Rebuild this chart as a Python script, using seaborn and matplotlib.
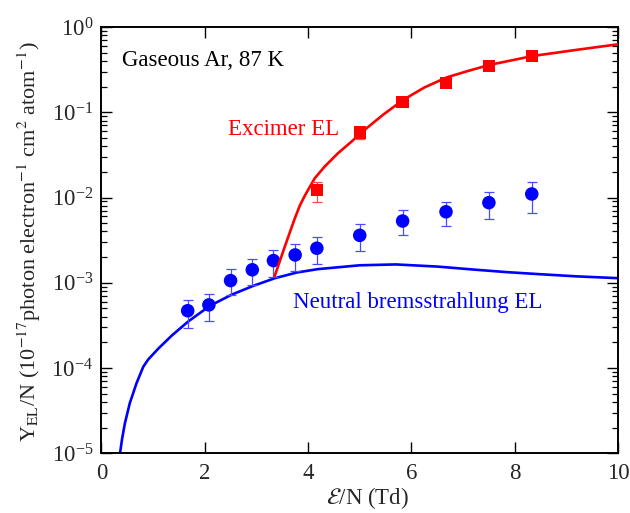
import numpy as np
import pandas as pd
import matplotlib
matplotlib.use("Agg")
import matplotlib.pyplot as plt
from matplotlib.ticker import LogLocator, FixedLocator, NullLocator
import seaborn as sns

# ---------------- data ----------------
# measured points (E/N in Td)
bremss_x = [1.67, 2.08, 2.50, 2.92, 3.33, 3.75, 4.17, 5.00, 5.83, 6.67, 7.50, 8.33]
bremss_y = [4.7e-4, 5.5e-4, 1.06e-3, 1.42e-3, 1.82e-3, 2.12e-3, 2.54e-3, 3.6e-3, 5.3e-3, 6.8e-3, 8.7e-3, 1.10e-2]
bremss_hi = [6.2e-4, 7.4e-4, 1.44e-3, 1.92e-3, 2.43e-3, 2.83e-3, 3.42e-3, 4.9e-3, 7.1e-3, 8.9e-3, 1.17e-2, 1.51e-2]
bremss_lo = [2.98e-4, 3.57e-4, 7.2e-4, 9.4e-4, 1.18e-3, 1.38e-3, 1.67e-3, 2.34e-3, 3.6e-3, 4.6e-3, 5.6e-3, 6.65e-3]

excimer_x = [4.17, 5.00, 5.83, 6.67, 7.50, 8.33]
excimer_y = [0.0123, 0.0577, 0.133, 0.219, 0.352, 0.457]
excimer_hi = [0.0154, 0.068, 0.145, 0.235, 0.375, 0.485]
excimer_lo = [0.0089, 0.0486, 0.122, 0.204, 0.330, 0.430]

# theory curves (log10 of Y/N)
bremss_curve_x = [0.36, 0.40, 0.455, 0.55, 0.68, 0.81, 0.905, 1.10, 1.36, 1.68, 2.10, 2.52, 2.94,
                  3.36, 3.78, 4.19, 5.0, 5.7, 6.5, 7.2, 7.84, 8.5, 9.2, 10.0]
bremss_curve_log = [-5.0, -4.83, -4.646, -4.41, -4.177, -3.985, -3.90, -3.773, -3.62, -3.454, -3.27, -3.14, -3.036,
                    -2.946, -2.88, -2.84, -2.795, -2.785, -2.81, -2.845, -2.875, -2.90, -2.925, -2.946]

excimer_curve_x = [3.355, 3.55, 3.74, 3.84, 3.94, 4.13, 4.32, 4.58, 4.84, 5.03, 5.45, 5.84, 6.25,
                   6.68, 7.1, 7.51, 8.35, 9.2, 10.0]
excimer_curve_log = [-2.92, -2.575, -2.25, -2.095, -1.975, -1.774, -1.638, -1.48, -1.345, -1.239, -1.03, -0.856, -0.71,
                     -0.592, -0.515, -0.445, -0.34, -0.268, -0.203]

x_ticks = [0, 2, 4, 6, 8, 10]

# ---------------- style ----------------
sns.set_theme(style="ticks")
plt.rcParams["font.family"] = ["Liberation Serif", "DejaVu Serif"]
plt.rcParams["mathtext.fontset"] = "stix"
plt.rcParams["axes.linewidth"] = 1.4

BLUE = "#0000ff"
RED = "#ff0000"
FS = 16.5

fig = plt.figure(figsize=(6.3, 5.13), dpi=100)
ax = fig.add_axes([0.161, 0.1164, 0.820, 0.8310])

bc = pd.DataFrame({"x": bremss_curve_x, "y": 10 ** np.array(bremss_curve_log)})
ec = pd.DataFrame({"x": excimer_curve_x, "y": 10 ** np.array(excimer_curve_log)})
bp = pd.DataFrame({"x": bremss_x, "y": bremss_y})
ep = pd.DataFrame({"x": excimer_x, "y": excimer_y})

sns.lineplot(data=bc, x="x", y="y", ax=ax, color=BLUE, lw=1.9, sort=False, estimator=None, zorder=2)

b_err = [np.array(bremss_y) - np.array(bremss_lo), np.array(bremss_hi) - np.array(bremss_y)]
ax.errorbar(bremss_x, bremss_y, yerr=b_err, fmt="none", ecolor="#4a4aff", elinewidth=0.9,
            capsize=3.6, capthick=0.9, zorder=3)
sns.scatterplot(data=bp, x="x", y="y", ax=ax, color=BLUE, marker="o", s=95, edgecolor="none",
                linewidth=0, zorder=4)

sns.lineplot(data=ec, x="x", y="y", ax=ax, color=RED, lw=1.9, sort=False, estimator=None, zorder=5)
e_err = [np.array(excimer_y) - np.array(excimer_lo), np.array(excimer_hi) - np.array(excimer_y)]
ax.errorbar(excimer_x, excimer_y, yerr=e_err, fmt="none", ecolor="#ff4a4a", elinewidth=0.9,
            capsize=3.6, capthick=0.9, zorder=6)
sns.scatterplot(data=ep, x="x", y="y", ax=ax, color=RED, marker="s", s=78, edgecolor="none",
                linewidth=0, zorder=7)

ax.set_yscale("log")
ax.set_xlim(0, 10)
ax.set_ylim(1e-5, 1e0)
ax.xaxis.set_major_locator(FixedLocator(x_ticks))
ax.xaxis.set_minor_locator(NullLocator())
ax.yaxis.set_major_locator(LogLocator(base=10, numticks=10))
ax.yaxis.set_minor_locator(LogLocator(base=10, subs=np.arange(2, 10), numticks=20))

ax.tick_params(which="both", direction="in", top=True, right=True, color="black", width=1.0)
ax.tick_params(which="major", length=8, labelsize=FS, pad=6)
ax.tick_params(which="minor", length=4.5, width=0.9)
ax.tick_params(axis="x", which="major", pad=7)
for s in ax.spines.values():
    s.set_color("black")

ax.set_xlabel(r"$\mathcal{E}$/N (Td)", fontsize=FS)
ax.xaxis.set_label_coords(0.515, -0.074)
ax.set_ylabel(r"Y$_{\rm EL}$/N (10$^{-17}$photon electron$^{-1}$ cm$^{2}$ atom$^{-1}$)", fontsize=16)
ax.yaxis.set_label_coords(-0.113, 0.497)

ax.text(0.040, 0.909, "Gaseous Ar, 87 K", transform=ax.transAxes, fontsize=FS, color="black",
        va="baseline", ha="left")
ax.text(0.245, 0.747, "Excimer EL", transform=ax.transAxes, fontsize=FS, color=RED,
        va="baseline", ha="left")
ax.text(0.370, 0.340, "Neutral bremsstrahlung EL", transform=ax.transAxes, fontsize=FS, color=BLUE,
        va="baseline", ha="left")

fig.savefig("out.png", dpi=100)
